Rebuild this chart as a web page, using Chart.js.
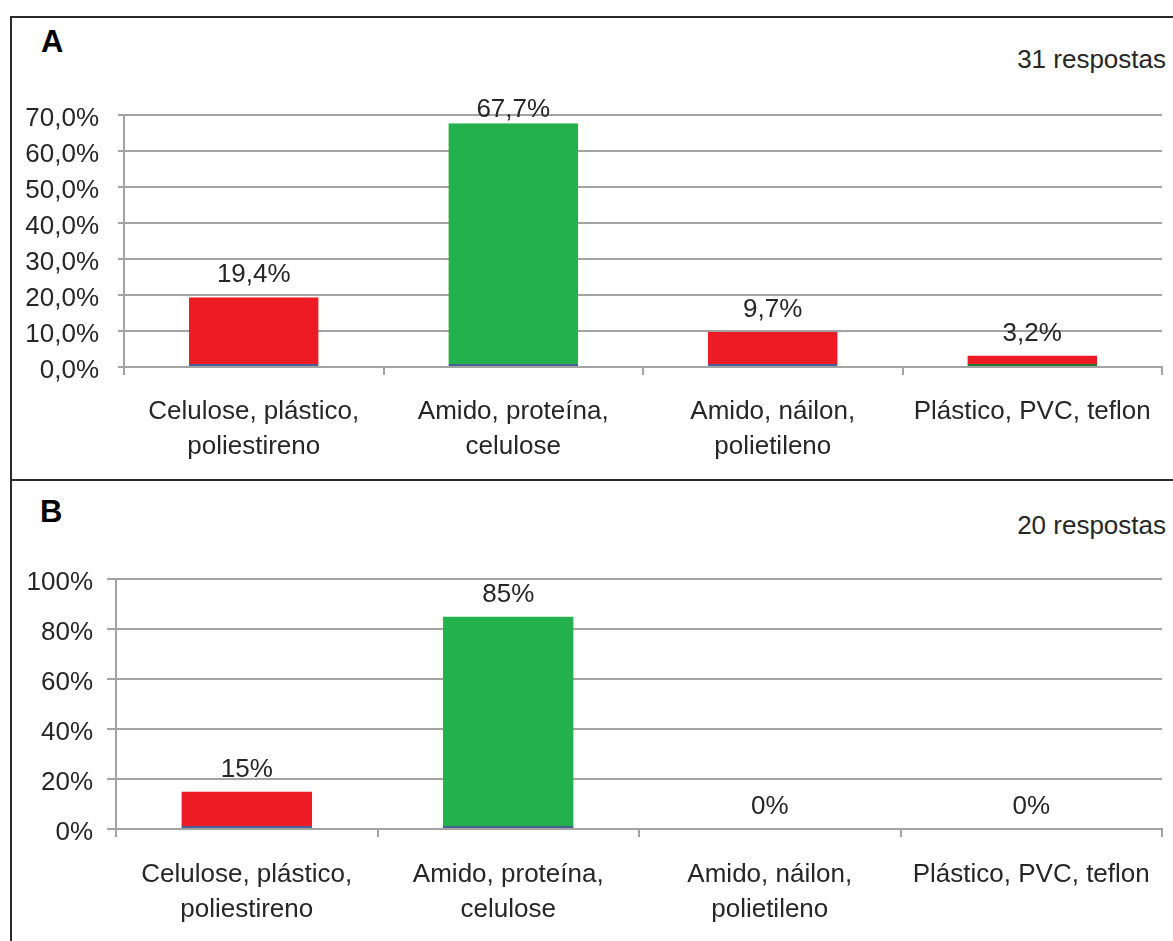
<!DOCTYPE html>
<html>
<head>
<meta charset="utf-8">
<script src="https://cdn.jsdelivr.net/npm/chart.js@4"></script>
<style>
  body { margin: 0; width: 1173px; height: 941px; overflow: hidden; background: #fff; position: relative; font-family: "Liberation Sans", Arial, sans-serif; }
  .panel { position: absolute; left: 10px; width: 1200px; border: 2px solid #2a2a2a; box-sizing: border-box; }
  .letter { position: absolute; font-weight: bold; font-size: 31px; line-height: 31px; color: #000; }
  .count { position: absolute; right: 7px; font-size: 26px; line-height: 26px; color: #262626; }
  .wrap { position: absolute; left: 0; }
</style>
</head>
<body>
<div class="panel" style="top:16px;height:465px"></div>
<div class="panel" style="top:479px;height:500px"></div>
<div class="letter" style="left:41px;top:26px">A</div>
<div class="count" style="top:46px">31 respostas</div>
<div class="letter" style="left:40px;top:496px">B</div>
<div class="count" style="top:512px">20 respostas</div>
<div class="wrap" style="top:16px"><canvas id="chart-a" width="1173" height="463"></canvas></div>
<div class="wrap" style="top:479px"><canvas id="chart-b" width="1173" height="462"></canvas></div>
<script>
const categories = [
  ['Celulose, plástico,', 'poliestireno'],
  ['Amido, proteína,', 'celulose'],
  ['Amido, náilon,', 'polietileno'],
  ['Plástico, PVC, teflon']
];
const valuesA = [19.4, 67.7, 9.7, 3.2];
const valuesB = [15, 85, 0, 0];
const ticksA = [0, 10, 20, 30, 40, 50, 60, 70];
const ticksB = [0, 20, 40, 60, 80, 100];

const RED = '#ED1C24';
const GREEN = '#22B14C';
const GRID = '#a3a3a3';
const FONT = { family: '"Liberation Sans", Arial, sans-serif', size: 26 };

// value labels above bars (like Excel "outside end")
const barLabels = {
  id: 'barLabels',
  afterDatasetsDraw(chart, args, opts) {
    const ctx = chart.ctx;
    const meta = chart.getDatasetMeta(0);
    ctx.save();
    ctx.font = '26px ' + FONT.family;
    ctx.fillStyle = '#262626';
    ctx.textAlign = 'center';
    ctx.textBaseline = 'middle';
    meta.data.forEach((bar, i) => {
      const v = chart.data.datasets[0].data[i];
      const y = Math.max(bar.y - 22, chart.chartArea.top - 5);
      ctx.fillText(opts.format(v), bar.x, y);
    });
    ctx.restore();
  }
};

function makeChart(id, values, tickVals, fmt, layout) {
  const ctx = document.getElementById(id).getContext('2d');
  return new Chart(ctx, {
    type: 'bar',
    data: {
      labels: categories,
      datasets: [{
        data: values,
        backgroundColor: values.map((v, i) => i === 1 ? GREEN : RED),
        borderColor: values.map((v, i) => i === 3 ? '#1f7a2e' : '#4a5f96'),
        borderWidth: { top: 0, left: 0, right: 0, bottom: 2 },
        borderSkipped: false,
        categoryPercentage: 1,
        barPercentage: 0.5
      }]
    },
    options: {
      responsive: false,
      animation: false,
      layout: { padding: { top: layout.top, right: 11, left: 0, bottom: 0 } },
      plugins: {
        legend: { display: false },
        tooltip: { enabled: false },
        barLabels: { format: fmt }
      },
      scales: {
        x: {
          grid: { offset: true, drawOnChartArea: false, drawTicks: true, tickLength: 8, color: GRID, lineWidth: 2 },
          border: { display: true, color: GRID, width: 2 },
          ticks: { color: '#262626', font: { ...FONT, lineHeight: 1.36 }, padding: layout.xPad, maxRotation: 0, autoSkip: false },
          afterFit(scale) { scale.height = layout.xHeight; }
        },
        y: {
          min: 0,
          max: tickVals[tickVals.length - 1],
          afterBuildTicks(scale) { scale.ticks = tickVals.map(v => ({ value: v })); },
          grid: { drawTicks: true, tickLength: layout.yTick, color: GRID, lineWidth: 2 },
          border: { display: true, color: GRID, width: 2 },
          ticks: { color: '#262626', font: FONT, padding: layout.yPad, labelOffset: 4, callback: v => layout.tickFmt(v) },
          afterFit(scale) { scale.width = layout.yWidth; }
        }
      }
    },
    plugins: [barLabels]
  });
}

makeChart('chart-a', valuesA, ticksA,
  v => v.toFixed(1).replace('.', ',') + '%',
  { top: 99, xHeight: 112, xPad: 19, yTick: 6, yPad: 19, yWidth: 124, tickFmt: v => v.toFixed(1).replace('.', ',') + '%' });

makeChart('chart-b', valuesB, ticksB,
  v => v + '%',
  { top: 100, xHeight: 112, xPad: 20, yTick: 9, yPad: 14, yWidth: 116, tickFmt: v => v + '%' });
</script>
</body>
</html>
